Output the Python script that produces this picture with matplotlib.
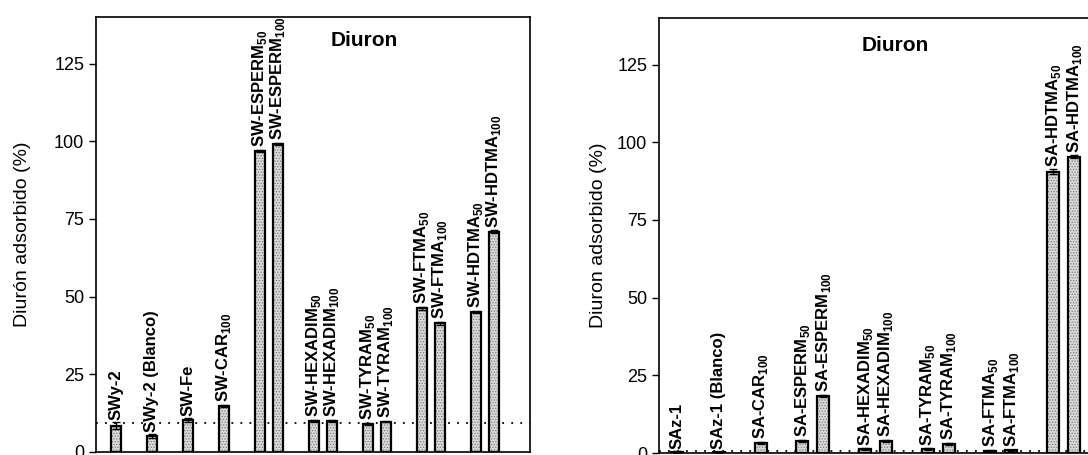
import matplotlib
matplotlib.use("Agg")
import matplotlib.pyplot as plt

plt.rcParams['font.family'] = ['Liberation Sans', 'DejaVu Sans']
plt.rcParams['mathtext.fontset'] = 'custom'
plt.rcParams['mathtext.rm'] = 'Liberation Sans'
plt.rcParams['mathtext.bf'] = 'Liberation Sans:bold'
plt.rcParams['hatch.linewidth'] = 0.6

# Left panel: SWy-2 series
sw_labels = ['SWy-2', 'SWy-2 (Blanco)', 'SW-Fe', r'SW-CAR$_{\mathbf{100}}$',
             r'SW-ESPERM$_{\mathbf{50}}$', r'SW-ESPERM$_{\mathbf{100}}$',
             r'SW-HEXADIM$_{\mathbf{50}}$', r'SW-HEXADIM$_{\mathbf{100}}$',
             r'SW-TYRAM$_{\mathbf{50}}$', r'SW-TYRAM$_{\mathbf{100}}$',
             r'SW-FTMA$_{\mathbf{50}}$', r'SW-FTMA$_{\mathbf{100}}$',
             r'SW-HDTMA$_{\mathbf{50}}$', r'SW-HDTMA$_{\mathbf{100}}$']
sw_values = [8.5, 5.1, 10.3, 14.8, 96.9, 99.1, 10.1, 10.0, 9.0, 9.8, 46.2, 41.5, 45.1, 70.9]
sw_errors = [1.0, 0.6, 0.5, 0.4, 0.3, 0.4, 0.3, 0.3, 0.3, 0.3, 0.4, 0.5, 0.4, 0.4]
sw_reference = 9.2
sw_singles = 4

# Right panel: SAz-1 series
sa_labels = ['SAz-1', 'SAz-1 (Blanco)', r'SA-CAR$_{\mathbf{100}}$',
             r'SA-ESPERM$_{\mathbf{50}}$', r'SA-ESPERM$_{\mathbf{100}}$',
             r'SA-HEXADIM$_{\mathbf{50}}$', r'SA-HEXADIM$_{\mathbf{100}}$',
             r'SA-TYRAM$_{\mathbf{50}}$', r'SA-TYRAM$_{\mathbf{100}}$',
             r'SA-FTMA$_{\mathbf{50}}$', r'SA-FTMA$_{\mathbf{100}}$',
             r'SA-HDTMA$_{\mathbf{50}}$', r'SA-HDTMA$_{\mathbf{100}}$']
sa_values = [0.3, 0.2, 3.3, 3.9, 18.3, 1.3, 3.9, 1.3, 2.9, 0.8, 0.9, 90.5, 95.4]
sa_errors = [0.2, 0.2, 0.4, 0.3, 0.3, 0.2, 0.3, 0.2, 0.3, 0.2, 0.2, 0.8, 0.4]
sa_reference = 0.6
sa_singles = 3


def layout(n, singles):
    # singles every 2 slots, then pairs with one empty slot between pairs
    pos = [2 * i for i in range(singles)]
    x = 2 * singles
    k = singles
    while k < n:
        pos.append(x)
        if k + 1 < n:
            pos.append(x + 1)
        x += 3
        k += 2
    return pos


def draw_panel(ax, labels, values, errors, singles, ref, width):
    pos = layout(len(values), singles)
    ax.bar(pos, values, width=width, color='#dadada', hatch='......',
           edgecolor='#7a7a7a', linewidth=0, zorder=2)
    ax.bar(pos, values, width=width, fill=False, edgecolor='black',
           linewidth=1.6, zorder=3)
    ax.errorbar(pos, values, yerr=errors, fmt='none', ecolor='black',
                elinewidth=1, capsize=3, zorder=4)
    for p, v, e, lab in zip(pos, values, errors, labels):
        ax.annotate(lab, (p, v + e), xytext=(0, 2), textcoords='offset points',
                    rotation=90, ha='center', va='bottom', fontsize=12,
                    fontweight='bold')
    ax.axhline(ref, color='black', linestyle=(0, (1, 4)), linewidth=1.3, zorder=1)
    ax.set_ylim(0, 140)
    ax.set_yticks([0, 25, 50, 75, 100, 125])
    ax.set_xticks([])
    ax.tick_params(axis='y', direction='out', length=5, width=1, labelsize=13)
    for s in ax.spines.values():
        s.set_linewidth(1.2)


W, H = 1088, 455
fig = plt.figure(figsize=(W / 100, H / 100), dpi=100)

ax1 = fig.add_axes([96 / W, (H - 452) / H, 434 / W, 435 / H])
draw_panel(ax1, sw_labels, sw_values, sw_errors, sw_singles, sw_reference, 0.6)
ax1.set_xlim(-1.11, 23.0)
ax1.set_ylabel('Diurón adsorbido (%)', fontsize=14)
ax1.yaxis.set_label_coords(-0.15, 0.5)
ax1.text(0.617, 0.947, 'Diuron', transform=ax1.transAxes, ha='center',
         va='center', fontsize=15, fontweight='bold')

ax2 = fig.add_axes([659 / W, (H - 453) / H, 461 / W, 435 / H])
draw_panel(ax2, sa_labels, sa_values, sa_errors, sa_singles, sa_reference, 0.57)
ax2.set_xlim(-0.86, 21.2)
ax2.set_ylabel('Diuron adsorbido (%)', fontsize=14)
ax2.yaxis.set_label_coords(-0.112, 0.5)
ax2.text(0.512, 0.936, 'Diuron', transform=ax2.transAxes, ha='center',
         va='center', fontsize=15, fontweight='bold')

fig.savefig('out.png', dpi=100)
